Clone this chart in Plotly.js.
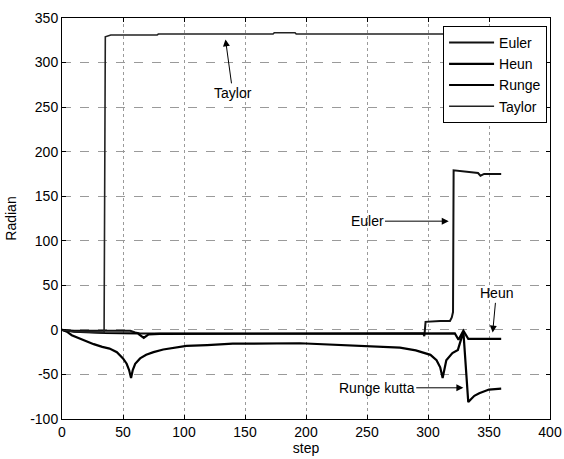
<!DOCTYPE html>
<html>
<head>
<meta charset="utf-8">
<script src="https://cdn.plot.ly/plotly-3.0.1.min.js"></script>
<style>html,body{margin:0;padding:0;background:#fff;}#chart{width:564px;height:459px;}</style>
</head>
<body>
<div id="chart"></div>
<script>
// Series data (step, radian)
const eulerX = [0, 10, 35, 56, 60, 64, 70, 100, 200, 296, 297, 298, 310, 318, 319.5, 320.5, 321, 330, 341, 343, 346, 360];
const eulerY = [0, -1, -1, -1, -3, -4, -4, -4, -4, -4, -7, 9, 10, 10, 14, 20, 179, 178, 176, 173, 175, 175];

const heunX = [0, 10, 35, 55, 62, 67, 71, 80, 150, 250, 300, 322, 325, 329, 333, 360];
const heunY = [0, -2, -3.5, -4, -4, -9, -5, -4.5, -4.5, -4.5, -4.5, -4, -11, -1, -10, -10];

const rungeX = [0, 4, 8, 15, 20, 26, 33, 39, 45, 50, 53, 55, 56.6, 58, 60, 64, 69, 75, 83, 91, 102, 119, 140, 195, 230, 260, 277, 290, 297, 302, 307, 310, 312, 313.5, 315, 320, 324.5, 329, 333, 335, 338, 342, 350, 360];
const rungeY = [0, -2, -6, -10, -13, -16, -19, -21, -25, -32, -38, -45, -54, -45, -38, -32, -28, -25, -22, -20, -18, -17, -15.5, -15, -17, -19, -20, -23, -26, -28, -34, -42, -54, -42, -34, -26, -22.5, -2, -81, -78, -74, -71, -67, -66];

const taylorX = [0, 10, 34.5, 35.5, 40, 78, 79, 173, 174, 191, 192, 360];
const taylorY = [0, -2, -3, 329, 331, 331, 332, 332, 333.5, 333.5, 332, 332];

const seriesNames = ["Euler", "Heun", "Runge", "Taylor"];
const xTicks = [0, 50, 100, 150, 200, 250, 300, 350, 400];
const yTicks = [-100, -50, 0, 50, 100, 150, 200, 250, 300, 350];

// Annotation labels: text, arrow tip (x, y), text centre (x, y)
const labelTexts = ["Taylor", "Euler", "Heun", "Runge kutta"];
const labelTip = [[134, 326], [317, 122], [353, -3], [329, -65]];
const labelText = [[140, 266], [250, 122], [356, 41], [258, -65]];

const font = "Liberation Sans, Arial, sans-serif";
const widths = [2, 2.2, 2.2, 1.6];
const colors = ["#111", "#000", "#000", "#222"];
const xs = [eulerX, heunX, rungeX, taylorX];
const ys = [eulerY, heunY, rungeY, taylorY];

const traces = seriesNames.map((n, i) => ({
  x: xs[i], y: ys[i], name: n, type: "scatter", mode: "lines",
  line: {color: colors[i], width: widths[i]}
}));

const annotations = labelTexts.map((t, i) => ({
  x: labelTip[i][0], y: labelTip[i][1], xref: "x", yref: "y",
  ax: labelText[i][0], ay: labelText[i][1], axref: "x", ayref: "y",
  text: t, showarrow: true, arrowhead: 2, arrowsize: 1.4, arrowwidth: 1,
  arrowcolor: "#000", font: {family: font, size: 14, color: "#000"}
}));

const layout = {
  width: 564, height: 459,
  margin: {l: 62, r: 14, t: 18, b: 40},
  paper_bgcolor: "#fff", plot_bgcolor: "#fff",
  font: {family: font, size: 14, color: "#000"},
  showlegend: true,
  legend: {x: 0.994, xanchor: "right", y: 0.98, yanchor: "top",
    bgcolor: "#fff", bordercolor: "#000", borderwidth: 1,
    font: {family: font, size: 14, color: "#000"}, itemwidth: 45, tracegroupgap: 0},
  xaxis: {range: [0, 400], tickvals: xTicks, ticktext: xTicks.map(String),
    showgrid: true, gridcolor: "#9a9a9a", griddash: "dot", gridwidth: 1,
    zeroline: false, showline: true, linecolor: "#000", linewidth: 1, mirror: "ticks",
    ticks: "inside", ticklen: 4, tickcolor: "#000",
    title: {text: "step", font: {family: font, size: 14}, standoff: 2},
    tickfont: {family: font, size: 14}},
  yaxis: {range: [-100, 350], tickvals: yTicks, ticktext: yTicks.map(String),
    showgrid: true, gridcolor: "#9a9a9a", griddash: "dash", gridwidth: 1,
    zeroline: false, showline: true, linecolor: "#000", linewidth: 1, mirror: "ticks",
    ticks: "inside", ticklen: 4, tickcolor: "#000",
    title: {text: "Radian", font: {family: font, size: 14}, standoff: 10},
    tickfont: {family: font, size: 14}},
  annotations: annotations
};

Plotly.newPlot("chart", traces, layout, {displayModeBar: false, staticPlot: true});
</script>
</body>
</html>
